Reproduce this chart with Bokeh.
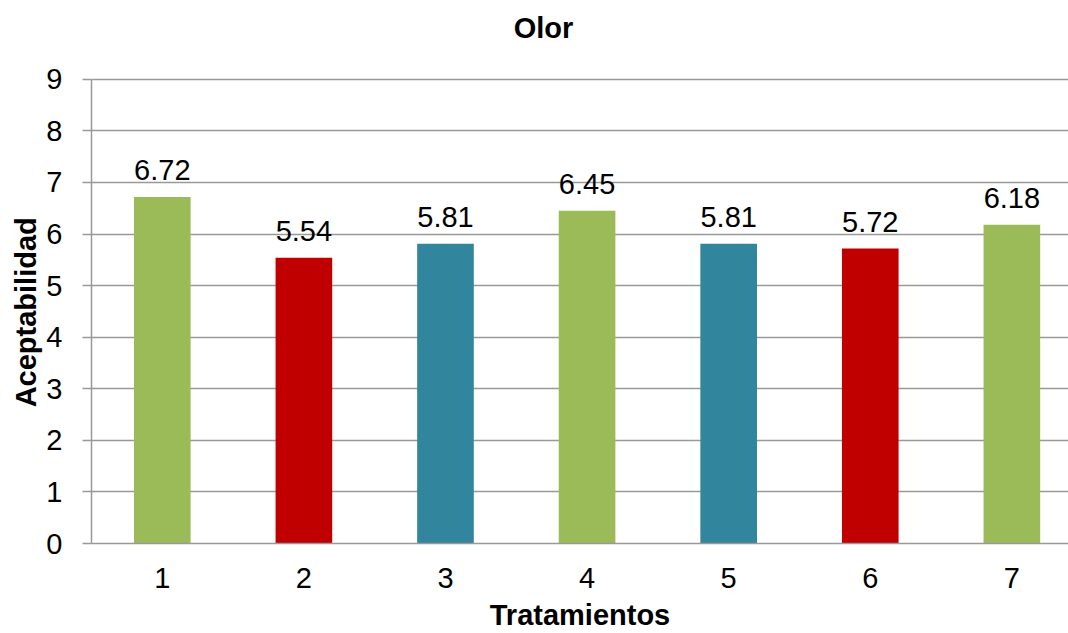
from bokeh.plotting import figure
from bokeh.models import ColumnDataSource, FixedTicker, Range1d, Label
from bokeh.core.properties import value
from bokeh.embed import file_html
from bokeh.resources import INLINE

# Olor acceptability by treatment
tratamientos = ["1", "2", "3", "4", "5", "6", "7"]
posiciones = [1, 2, 3, 4, 5, 6, 7]
aceptabilidad = [6.72, 5.54, 5.81, 6.45, 5.81, 5.72, 6.18]
colores = ["#9BBB59", "#C00000", "#31859C", "#9BBB59", "#31859C", "#C00000", "#9BBB59"]
y_ticks = [0, 1, 2, 3, 4, 5, 6, 7, 8, 9]

FONT = "Liberation Sans"
GRID = "#999999"
SIZE = "29px"

W, H = 1068, 633
LEFT, BOTTOM = 91, 89
FRAME_H = H - BOTTOM
# the frame reaches the top edge so the title can sit inside it;
# the value axis itself stops at 9
Y_TOP = 9 * FRAME_H / (FRAME_H - 79)

src = ColumnDataSource(dict(
    x=posiciones,
    top=aceptabilidad,
    color=colores,
    label=[f"{v:.2f}" for v in aceptabilidad],
))

p = figure(width=W, height=H, output_backend="svg", toolbar_location=None,
           x_range=Range1d(0.5, 7.4), y_range=Range1d(0, Y_TOP),
           min_border_left=LEFT, min_border_right=0, min_border_top=0,
           min_border_bottom=BOTTOM)
p.outline_line_color = None
p.background_fill_color = "white"
p.border_fill_color = "white"

p.vbar(x="x", top="top", width=0.40, color="color", source=src, line_color=None)

p.text(x="x", y="top", text="label", source=src, text_align="center",
       text_baseline="bottom", y_offset=-17, text_font=value(FONT),
       text_font_size=SIZE, text_color="black")

# title
title = Label(x=543 - LEFT, y=FRAME_H - 28, x_units="screen", y_units="screen",
              text="Olor", text_align="center", text_baseline="middle",
              text_font=FONT, text_font_size=SIZE, text_font_style="bold",
              text_color="black")
p.add_layout(title)

# axes
p.yaxis.bounds = (0, 9)
p.yaxis.ticker = FixedTicker(ticks=y_ticks)
p.yaxis.axis_line_color = GRID
p.yaxis.axis_line_width = 1.5
p.yaxis.major_tick_line_color = GRID
p.yaxis.major_tick_line_width = 1.5
p.yaxis.major_tick_out = 9
p.yaxis.major_tick_in = 0
p.yaxis.minor_tick_line_color = None
p.yaxis.major_label_standoff = 20
p.yaxis.major_label_text_font = FONT
p.yaxis.major_label_text_font_size = SIZE
p.yaxis.major_label_text_color = "black"
# trailing no-break spaces centre the label on the 0-9 span rather than the taller frame
p.yaxis.axis_label = "Aceptabilidad" + "\u00a0" * 10
p.yaxis.axis_label_text_font = FONT
p.yaxis.axis_label_text_font_style = "bold"
p.yaxis.axis_label_text_font_size = SIZE
p.yaxis.axis_label_text_color = "black"
p.yaxis.axis_label_standoff = 1

p.xaxis.ticker = FixedTicker(ticks=posiciones)
p.xaxis.major_label_overrides = {pos: t for pos, t in zip(posiciones, tratamientos)}
p.xaxis.axis_line_color = GRID
p.xaxis.axis_line_width = 1.5
p.xaxis.major_tick_line_color = None
p.xaxis.minor_tick_line_color = None
p.xaxis.major_label_standoff = 18
p.xaxis.major_label_text_font = FONT
p.xaxis.major_label_text_font_size = SIZE
p.xaxis.major_label_text_color = "black"
p.xaxis.axis_label = "Tratamientos"
p.xaxis.axis_label_text_font = FONT
p.xaxis.axis_label_text_font_style = "bold"
p.xaxis.axis_label_text_font_size = SIZE
p.xaxis.axis_label_text_color = "black"
p.xaxis.axis_label_standoff = 8

p.xgrid.grid_line_color = None
p.ygrid.grid_line_color = GRID
p.ygrid.grid_line_width = 1.5

open("out.html", "w").write(file_html(p, INLINE))
